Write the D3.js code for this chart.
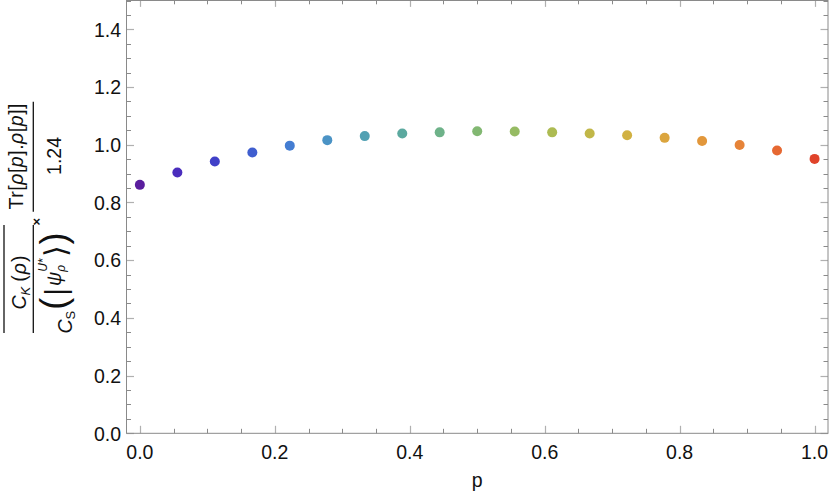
<!DOCTYPE html>
<html><head><meta charset="utf-8">
<script src="https://cdn.jsdelivr.net/npm/d3@7"></script>
<style>body{margin:0;background:#fff}svg{display:block}</style>
</head><body>
<svg id="chart" width="830" height="498"></svg>
<script>
// ---- data ----
const pValues = [0, 0.0556, 0.1111, 0.1667, 0.2222, 0.2778, 0.3333, 0.3889, 0.4444, 0.5, 0.5556, 0.6111, 0.6667, 0.7222, 0.7778, 0.8333, 0.8889, 0.9444, 1];
const ratioValues = [0.861, 0.904, 0.942, 0.973, 0.997, 1.016, 1.030, 1.039, 1.043, 1.047, 1.046, 1.043, 1.039, 1.033, 1.024, 1.013, 0.999, 0.980, 0.951];
const pointColors = ["#5a1e9e", "#4a2dbd", "#4040c8", "#3f5ecf", "#447dd2", "#4b93c5", "#52a1b3", "#5ba99f", "#6eb289", "#82b872", "#96bb63", "#adbb52", "#c1b748", "#d1b142", "#dba53e", "#e2973b", "#e68338", "#e66832", "#e0432a"];
const xTickLabels = ["0.0", "0.2", "0.4", "0.6", "0.8", "1.0"];
const yTickLabels = ["0.0", "0.2", "0.4", "0.6", "0.8", "1.0", "1.2", "1.4"];
const xAxisTitle = "p";

// ---- layout ----
const W = 830, H = 498;
const frame = {left: 126.5, right: 828, top: 0.5, bottom: 433.3};
const FONT = "'Liberation Sans', Arial, Helvetica, sans-serif";
const FS = 19.5;

const svg = d3.select("#chart");
const x = d3.scaleLinear().domain([-0.0198, 1.0199]).range([frame.left, frame.right]);
const y = d3.scaleLinear().domain([0, 1.5]).range([frame.bottom, frame.top]);

const frameColor = "#8a8a8a", majorColor = "#b0b0b0", minorColor = "#8a8a8a";
const majLen = 7.5, minLen = 4.5;

const xMajor = xTickLabels.map(Number);
const yMajor = yTickLabels.map(Number);
const xMinor = d3.range(0, 21).map(i => i * 0.05).filter(v => !xMajor.some(m => Math.abs(m - v) < 1e-6));
const yMinor = d3.range(0, 31).map(i => i * 0.05).filter(v => !yMajor.some(m => Math.abs(m - v) < 1e-6));

const ticks = svg.append("g").attr("class", "ticks");
function xTick(v, len, col, w) {
  const px = Math.round(x(v)) + 0.5;
  ticks.append("line").attr("x1", px).attr("x2", px).attr("y1", frame.bottom).attr("y2", frame.bottom - len).attr("stroke", col).attr("stroke-width", w);
  ticks.append("line").attr("x1", px).attr("x2", px).attr("y1", frame.top).attr("y2", frame.top + len * 0.85).attr("stroke", col).attr("stroke-width", w);
}
function yTick(v, len, col, w) {
  const py = Math.round(y(v)) + 0.5;
  ticks.append("line").attr("x1", frame.left).attr("x2", frame.left + len).attr("y1", py).attr("y2", py).attr("stroke", col).attr("stroke-width", w);
  ticks.append("line").attr("x1", frame.right).attr("x2", frame.right - len).attr("y1", py).attr("y2", py).attr("stroke", col).attr("stroke-width", w);
}
xMinor.forEach(v => xTick(v, minLen, minorColor, 1));
xMajor.forEach(v => xTick(v, majLen, majorColor, 1.2));
yMinor.forEach(v => yTick(v, minLen, minorColor, 1));
yMajor.forEach(v => yTick(v, majLen, majorColor, 1.2));

// frame
svg.append("rect").attr("x", frame.left).attr("y", frame.top)
  .attr("width", frame.right - frame.left).attr("height", frame.bottom - frame.top)
  .attr("fill", "none").attr("stroke", frameColor).attr("stroke-width", 1);

// tick labels
svg.append("g").selectAll("text").data(xTickLabels).join("text")
  .attr("x", d => x(+d)).attr("y", 459)
  .attr("text-anchor", "middle").attr("font-family", FONT).attr("font-size", FS).attr("fill", "#111")
  .text(d => d);
svg.append("g").selectAll("text").data(yTickLabels).join("text")
  .attr("x", 121).attr("y", d => y(+d) + 7.2)
  .attr("text-anchor", "end").attr("font-family", FONT).attr("font-size", FS).attr("fill", "#111")
  .text(d => d);

// x title
svg.append("text").attr("x", (frame.left + frame.right) / 2).attr("y", 487)
  .attr("text-anchor", "middle").attr("font-family", FONT).attr("font-size", FS).attr("fill", "#111")
  .text(xAxisTitle);

// points
svg.append("g").selectAll("circle").data(pValues).join("circle")
  .attr("cx", d => x(d)).attr("cy", (d, i) => y(ratioValues[i]))
  .attr("r", 5).attr("fill", (d, i) => pointColors[i]);

// ---- y-axis label (rotated math expression) ----
const lab = svg.append("g").attr("transform", "rotate(-90)").attr("font-family", FONT).attr("fill", "#111");

// horizontal math row: pieces laid out left to right (in rotated frame), centered on cx
function mathRow(cx, base, pieces) {
  const g = lab.append("g");
  let cur = 0, prevStart = 0, prevW = 0;
  pieces.forEach(p => {
    const t = g.append("text").attr("font-size", p.size || FS).attr("font-style", p.italic ? "italic" : "normal").text(p.t);
    const w = t.node().getComputedTextLength();
    let px;
    if (p.stack) { px = prevStart; cur = Math.max(cur, prevStart + w + (p.dx || 0)); }
    else { px = cur + (p.dx || 0); prevStart = px; cur = px + w; }
    t.attr("x", px).attr("y", base + (p.dy || 0));
    prevW = w;
  });
  g.attr("transform", `translate(${cx - cur / 2},0)`);
  return g;
}

// second fraction: Tr[ρ[p].ρ[p]] / 1.24   (screen y 101.7..211.7)
const trText = lab.append("text").attr("x", -156.5).attr("y", 23).attr("text-anchor", "middle")
  .attr("font-size", FS).attr("textLength", 106).attr("lengthAdjust", "spacing");
[["Tr[", false], ["ρ", true], ["[", false], ["p", true], ["].", false], ["ρ", true], ["[", false], ["p", true], ["]]", false]]
  .forEach(([s, it]) => trText.append("tspan").attr("font-style", it ? "italic" : "normal").text(s));
lab.append("text").attr("x", -156).attr("y", 60.5).attr("text-anchor", "middle").attr("font-size", FS).text("1.24");
lab.append("line").attr("x1", -211.7).attr("x2", -101.7).attr("y1", 33.3).attr("y2", 33.3).attr("stroke", "#111").attr("stroke-width", 1.3);

// times sign
lab.append("text").attr("x", -221.7).attr("y", 41).attr("text-anchor", "middle").attr("font-size", 13).attr("font-weight", "bold").text("×");

// first fraction with overline
lab.append("line").attr("x1", -333).attr("x2", -225).attr("y1", 33.3).attr("y2", 33.3).attr("stroke", "#111").attr("stroke-width", 1.3);
lab.append("line").attr("x1", -333).attr("x2", -225).attr("y1", 4).attr("y2", 4).attr("stroke", "#111").attr("stroke-width", 1.3);

mathRow(-282.5, 26, [
  {t: "C", italic: true},
  {t: "K", italic: true, size: 13, dy: 4},
  {t: "(", dx: 5},
  {t: "ρ", italic: true, dx: 1},
  {t: ")", dx: 1}
]);

mathRow(-283, 71.5, [
  {t: "C", italic: true},
  {t: "S", size: 13, dy: 3},
  {t: "(", size: 36, dy: -6, dx: 1},
  {t: "|", size: 30, dy: -6, dx: 2},
  {t: "ψ", italic: true, dy: -11, dx: 2},
  {t: "ρ", italic: true, size: 12, dy: -7, dx: 0},
  {t: "U*", italic: true, size: 12, dy: -25, stack: true},
  {t: "⟩", size: 30, dy: -6, dx: 1},
  {t: ")", size: 36, dy: -6, dx: 1}
]);
</script>
</body></html>
